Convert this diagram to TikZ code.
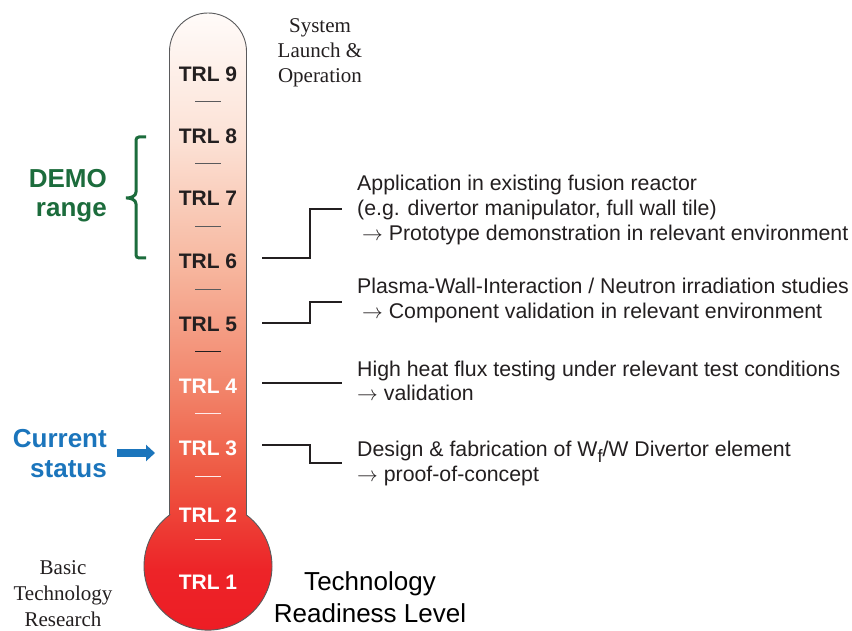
\documentclass[tikz,border=0pt]{standalone}
\usepackage{fontspec}
\setmainfont{Liberation Serif}
\setsansfont{Liberation Sans}
\usetikzlibrary{arrows.meta}
\definecolor{tA}{RGB}{237,28,36}
\definecolor{tB}{RGB}{237,36,40}
\definecolor{tC}{RGB}{238,88,66}
\definecolor{tD}{RGB}{242,132,106}
\definecolor{tE}{RGB}{247,184,160}
\definecolor{tF}{RGB}{252,226,214}
\definecolor{tG}{RGB}{255,251,249}
\definecolor{dark}{RGB}{35,31,32}
\definecolor{demogreen}{RGB}{28,108,60}
\definecolor{curblue}{RGB}{27,117,188}
\definecolor{tubeline}{RGB}{90,90,92}
\pgfdeclareverticalshading{thermo}{100bp}{color(0bp)=(tA); color(25bp)=(tA); color(30.5bp)=(tB); color(38bp)=(tC); color(45bp)=(tD); color(55bp)=(tE); color(65bp)=(tF); color(75bp)=(tG); color(100bp)=(tG)}
\newcommand{\myarr}{$\rightarrow$}
\tikzset{
  trl/.style={font=\sffamily\bfseries\fontsize{21}{21}\selectfont, anchor=base, inner sep=0pt},
  trldark/.style={trl, text=dark},
  trllight/.style={trl, text=white},
  tick/.style={line width=0.9pt},
  desc/.style={font=\sffamily\fontsize{21.3}{25}\selectfont, anchor=base west, align=left, inner sep=0pt, text=dark},
  conn/.style={line width=1.5pt, draw=dark},
  serifnote/.style={font=\rmfamily\fontsize{21}{25}\selectfont, anchor=base, align=center, inner sep=0pt, text=dark},
}
\begin{document}
\begin{tikzpicture}[x=1pt,y=1pt]
\useasboundingbox (0,0) rectangle (852,630);
\fill[white] (0,0) rectangle (852,630);
% thermometer body
\path[shading=thermo, draw=tubeline, line width=0.9pt]
  (169.5,115) -- (169.5,578.5) arc[start angle=180,end angle=0,radius=38.5pt]
  -- (246.5,115) arc[start angle={acos(38.5/64)}, end angle={-180-acos(38.5/64)}, radius=64pt] -- cycle;
% TRL labels
\node[trldark]  (trl9) at (208,548.5) {TRL 9};
\node[trldark]  (trl8) at (208,486.5) {TRL 8};
\node[trldark]  (trl7) at (208,424.5) {TRL 7};
\node[trldark]  (trl6) at (208,361.5) {TRL 6};
\node[trldark]  (trl5) at (208,298.5) {TRL 5};
\node[trllight] (trl4) at (208,236.5) {TRL 4};
\node[trllight] (trl3) at (208,174.5) {TRL 3};
\node[trllight] (trl2) at (208,107.5) {TRL 2};
\node[trllight] (trl1) at (208,40.5)  {TRL 1};
% separator ticks
\draw[tick, draw=tubeline] (195,529) -- (221,529);
\draw[tick, draw=tubeline] (195,467) -- (221,467);
\draw[tick, draw=tubeline] (195,404) -- (221,404);
\draw[tick, draw=tubeline] (195,341) -- (221,341);
\draw[tick, draw=dark]     (195,279) -- (221,279);
\draw[tick, draw=white!92!red] (195,217) -- (221,217);
\draw[tick, draw=white!92!red] (195,154) -- (221,154);
\draw[tick, draw=white!92!red] (195,91) -- (221,91);
% descriptions (anchor = baseline of last line)
\node[desc] (d6) at (357,389) {Application in existing fusion reactor\\(e.g. divertor manipulator, full wall tile)\\\hspace*{5pt}\myarr\ Prototype demonstration in relevant environment};
\node[desc] (d5) at (357,311) {Plasma-Wall-Interaction / Neutron irradiation studies\\\hspace*{5pt}\myarr\ Component validation in relevant environment};
\node[desc] (d4) at (357,229) {High heat flux testing under relevant test conditions\\\myarr\ validation};
\node[desc] (d3) at (357,149) {Design \& fabrication of W\raisebox{-6.5pt}{\fontsize{18}{18}\selectfont f}/W Divertor element\\\myarr\ proof-of-concept};
% connectors
\coordinate (s6) at (262,372); \coordinate (e6) at (342,421);
\coordinate (s5) at (262,307); \coordinate (e5) at (342,328);
\coordinate (s4) at (262,247); \coordinate (e4) at (342,247);
\coordinate (s3) at (262,185); \coordinate (e3) at (342,167);
\draw[conn] (s6) -- (310,372) |- (e6);
\draw[conn] (s5) -- (310,307) |- (e5);
\draw[conn] (s4) -- (e4);
\draw[conn] (s3) -- (310,185) |- (e3);
% left annotations
\node[font=\sffamily\bfseries\fontsize{26}{29}\selectfont, text=demogreen, align=right, anchor=base east, inner sep=0pt] (demo) at (107,413) {DEMO\\range};
\draw[demogreen, line width=3pt, rounded corners=3pt, line cap=butt]
  (146,493) -- (136,493) -- (136,441)
  .. controls (136,434) and (131,432) .. (124,432)
  .. controls (131,432) and (136,430) .. (136,423)
  -- (136,372) -- (146,372);
\node[font=\sffamily\bfseries\fontsize{26}{30}\selectfont, text=curblue, align=right, anchor=base east, inner sep=0pt] (cur) at (107,153) {Current\\status};
\coordinate (a1) at (117,177); \coordinate (a2) at (155,177);
\draw[curblue, line width=8pt, -{Triangle[length=9pt,width=16pt]}] (a1) -- (a2);
\node[serifnote] (sys) at (320,547) {System\\Launch \&\\Operation};
\node[font=\rmfamily\fontsize{21}{26}\selectfont, anchor=base, align=center, inner sep=0pt, text=dark] (basic) at (63,4) {Basic\\Technology\\Research};
\node[font=\sffamily\fontsize{26}{32}\selectfont, anchor=base, align=center, inner sep=0pt, text=black] (tech) at (370,8) {Technology\\Readiness Level};
\end{tikzpicture}
\end{document}
